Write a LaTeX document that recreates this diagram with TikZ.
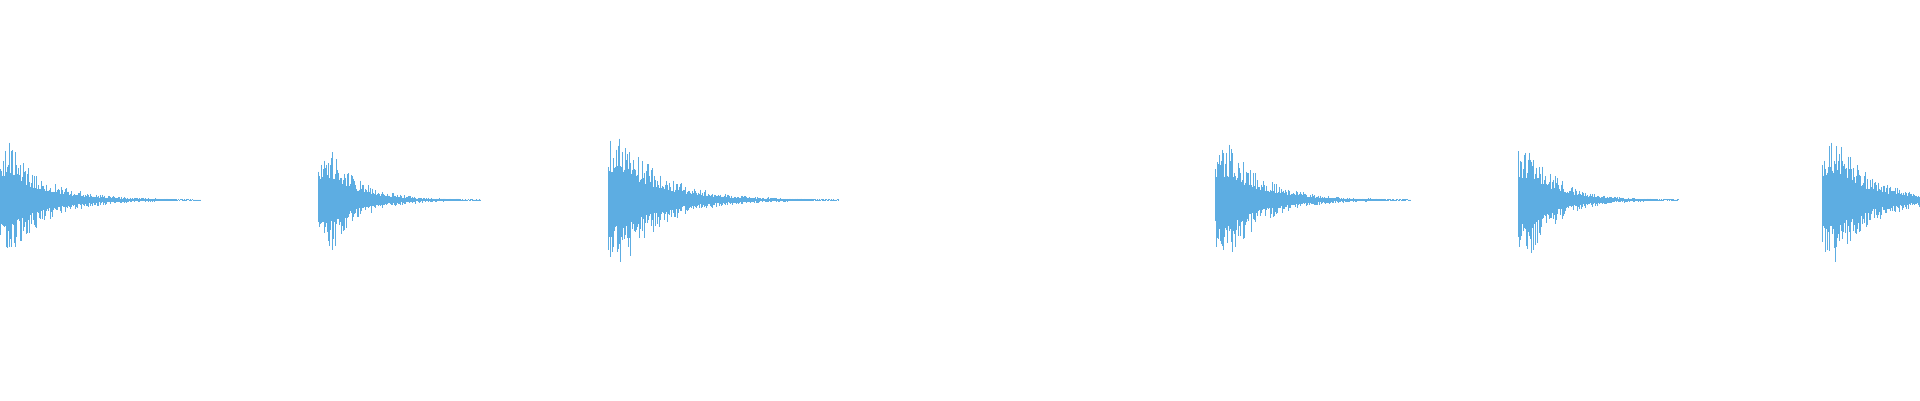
\documentclass[tikz,border=0pt]{standalone}
\definecolor{wave}{RGB}{93,173,226}
\newcommand{\myburst}[3]{% start, length, amp
  \pgfmathsetmacro{\tau}{#2/5.5}
  \foreach \t in {0,1,...,#2}{
    \pgfmathsetmacro{\rise}{0.6+0.4*min(1,\t/14)}
    \pgfmathsetmacro{\env}{#3*\rise*exp(-\t/\tau)+0.5}
    \pgfmathsetmacro{\up}{\env*(0.4+0.6*rnd^1.6)}
    \pgfmathsetmacro{\dn}{\env*(0.4+0.6*rnd^1.6)}
    \pgfmathsetmacro{\xx}{#1+\t}
    \draw[wave] (\xx,200+\up) -- (\xx,200-\dn);
  }}
\begin{document}
\begin{tikzpicture}[x=1pt,y=1pt,line width=0.9pt]
\useasboundingbox[fill=white] (0,0) rectangle (1920,400);
\pgfmathsetseed{7}
\begin{scope}
\clip (0,0) rectangle (1920,400);
\myburst{-6}{206}{86}
\myburst{318}{162}{82}
\myburst{608}{230}{94}
\myburst{1215}{195}{86}
\myburst{1518}{160}{86}
\myburst{1822}{200}{94}
\end{scope}
\end{tikzpicture}
\end{document}
